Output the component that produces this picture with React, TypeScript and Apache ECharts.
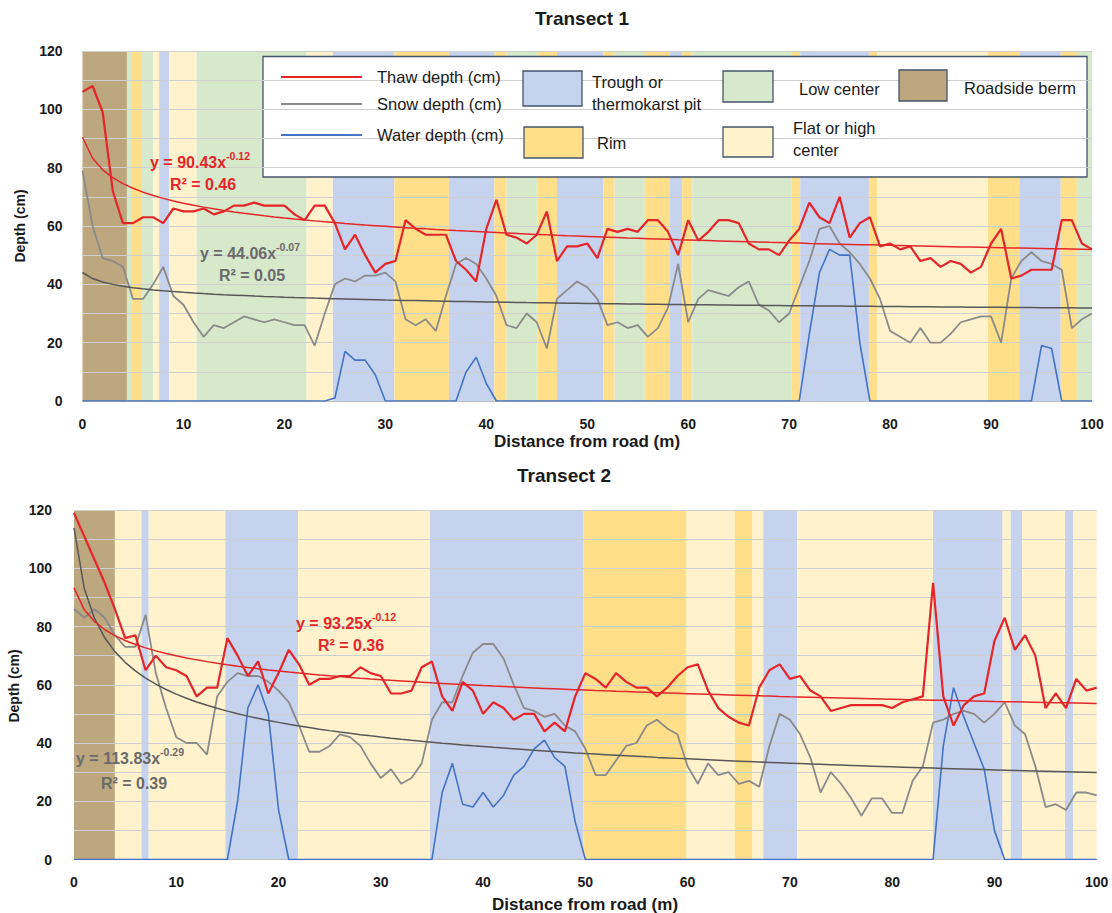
import React, { useEffect, useRef } from 'react';
import * as echarts from 'echarts';

const FONT = "'Liberation Sans', Arial, sans-serif";

// ---------- Transect 1 (values at 1 m spacing, 0..100 m) ----------
const t1Thaw = [
  106, 108, 99, 72, 61, 61, 63, 63, 61, 66,
  65, 65, 66, 64, 65, 67, 67, 68, 67, 67,
  67, 64, 62, 67, 67, 61, 52, 57, 50, 44,
  47, 48, 62, 59, 57, 57, 57, 48, 45, 41,
  59, 69, 57, 56, 54, 57, 65, 48, 53, 53,
  54, 49, 59, 58, 59, 58, 62, 62, 58, 50,
  62, 55, 58, 62, 62, 61, 54, 52, 52, 50,
  55, 59, 68, 63, 61, 70, 56, 61, 63, 53,
  54, 52, 53, 48, 49, 46, 48, 47, 44, 46,
  54, 59, 42, 43, 45, 45, 45, 62, 62, 54,
  52,
];
const t1Snow = [
  79, 60, 49, 48, 46, 35, 35, 40, 46, 36,
  33, 27, 22, 26, 25, 27, 29, 28, 27, 28,
  27, 26, 26, 19, 30, 40, 42, 41, 43, 43,
  44, 41, 28, 26, 28, 24, 36, 47, 49, 47,
  42, 36, 26, 25, 30, 27, 18, 35, 38, 41,
  39, 35, 26, 27, 25, 26, 22, 25, 32, 47,
  27, 35, 38, 37, 36, 39, 41, 33, 31, 27,
  30, 39, 48, 59, 60, 54, 51, 47, 42, 35,
  24, 22, 20, 25, 20, 20, 23, 27, 28, 29,
  29, 20, 42, 48, 51, 48, 47, 45, 25, 28,
  30,
];
const t1Water = [
  0, 0, 0, 0, 0, 0, 0, 0, 0, 0,
  0, 0, 0, 0, 0, 0, 0, 0, 0, 0,
  0, 0, 0, 0, 0, 1, 17, 14, 14, 9,
  0, 0, 0, 0, 0, 0, 0, 0, 10, 15,
  6, 0, 0, 0, 0, 0, 0, 0, 0, 0,
  0, 0, 0, 0, 0, 0, 0, 0, 0, 0,
  0, 0, 0, 0, 0, 0, 0, 0, 0, 0,
  0, 0, 23, 44, 52, 50, 50, 20, 0, 0,
  0, 0, 0, 0, 0, 0, 0, 0, 0, 0,
  0, 0, 0, 0, 0, 19, 18, 0, 0, 0,
  0,
];

// ---------- Transect 2 ----------
const t2Thaw = [
  119, 111, 103, 95, 86, 76, 77, 65, 70, 66,
  65, 63, 56, 59, 59, 76, 70, 63, 68, 57,
  64, 72, 67, 60, 62, 62, 63, 63, 66, 64,
  63, 57, 57, 58, 66, 68, 56, 51, 61, 58,
  50, 54, 52, 48, 50, 50, 44, 47, 44, 56,
  64, 62, 59, 64, 61, 59, 59, 56, 59, 63,
  66, 67, 58, 52, 49, 47, 46, 59, 65, 67,
  62, 63, 58, 56, 51, 52, 53, 53, 53, 53,
  52, 54, 55, 56, 95, 56, 46, 53, 56, 57,
  75, 83, 72, 77, 70, 52, 57, 52, 62, 58,
  59,
];
const t2Snow = [
  86, 83, 86, 83, 77, 73, 73, 84, 64, 52,
  42, 40, 40, 36, 56, 61, 64, 63, 63, 61,
  58, 54, 46, 37, 37, 39, 43, 42, 39, 33,
  28, 31, 26, 28, 33, 48, 54, 54, 63, 71,
  74, 74, 69, 60, 52, 51, 49, 50, 46, 44,
  38, 29, 29, 34, 39, 40, 46, 48, 45, 43,
  32, 26, 33, 29, 30, 26, 27, 25, 39, 50,
  48, 43, 35, 23, 30, 26, 21, 15, 21, 21,
  16, 16, 27, 32, 47, 48, 50, 51, 50, 47,
  50, 54, 46, 43, 32, 18, 19, 17, 23, 23,
  22,
];
const t2Water = [
  0, 0, 0, 0, 0, 0, 0, 0, 0, 0,
  0, 0, 0, 0, 0, 0, 20, 52, 60, 50,
  17, 0, 0, 0, 0, 0, 0, 0, 0, 0,
  0, 0, 0, 0, 0, 0, 23, 33, 19, 18,
  23, 18, 22, 29, 32, 38, 41, 35, 32, 13,
  0, 0, 0, 0, 0, 0, 0, 0, 0, 0,
  0, 0, 0, 0, 0, 0, 0, 0, 0, 0,
  0, 0, 0, 0, 0, 0, 0, 0, 0, 0,
  0, 0, 0, 0, 0, 39, 59, 49, 40, 31,
  10, 0, 0, 0, 0, 0, 0, 0, 0, 0,
  0,
];

// Power-law trend lines as printed on the chart (y = a·x^b, x = point index starting at 1)
const t1ThawFit = { a: 90.43, b: -0.12, r2: '0.46' };
const t1SnowFit = { a: 44.06, b: -0.07, r2: '0.05' };
const t2ThawFit = { a: 93.25, b: -0.12, r2: '0.36' };
const t2SnowFit = { a: 113.83, b: -0.29, r2: '0.39' };

// Terrain classes along the transects [from m, to m, class]
type Kind = 'trough' | 'rim' | 'low' | 'flat' | 'berm';
const t1Bands: [number, number, Kind][] = [
  [0, 4.4, 'berm'], [4.4, 4.9, 'low'], [4.9, 5.9, 'rim'], [5.9, 7.0, 'low'], [7.0, 7.6, 'flat'],
  [7.6, 8.6, 'trough'], [8.6, 11.3, 'flat'], [11.3, 22.2, 'low'], [22.2, 24.8, 'flat'],
  [24.8, 30.9, 'trough'], [30.9, 36.3, 'rim'], [36.3, 40.8, 'trough'], [40.8, 42.0, 'rim'],
  [42.0, 45.1, 'low'], [45.1, 47.0, 'rim'], [47.0, 51.6, 'trough'], [51.6, 52.7, 'rim'],
  [52.7, 55.7, 'low'], [55.7, 58.2, 'rim'], [58.2, 59.4, 'trough'], [59.4, 60.4, 'rim'],
  [60.4, 70.2, 'low'], [70.2, 71.1, 'rim'], [71.1, 77.9, 'trough'], [77.9, 78.7, 'rim'],
  [78.7, 89.7, 'flat'], [89.7, 92.8, 'rim'], [92.8, 96.9, 'trough'], [96.9, 98.5, 'rim'],
  [98.5, 100, 'low'],
];
const t2Bands: [number, number, Kind][] = [
  [0, 4.0, 'berm'], [4.0, 6.6, 'flat'], [6.6, 7.3, 'trough'], [7.3, 14.8, 'flat'],
  [14.8, 21.9, 'trough'], [21.9, 34.8, 'flat'], [34.8, 49.8, 'trough'], [49.8, 59.9, 'rim'],
  [59.9, 64.6, 'flat'], [64.6, 66.3, 'rim'], [66.3, 67.4, 'flat'], [67.4, 70.7, 'trough'],
  [70.7, 84.0, 'flat'], [84.0, 90.8, 'trough'], [90.8, 91.6, 'flat'], [91.6, 92.7, 'trough'],
  [92.7, 96.9, 'flat'], [96.9, 97.7, 'trough'], [97.7, 100, 'flat'],
];

const yTicks = [0, 20, 40, 60, 80, 100, 120];

const BAND_COLOR: Record<Kind, string> = {
  trough: '#C6D3EE',
  rim: '#FFDF8A',
  low: '#D7E9CB',
  flat: '#FFF2CC',
  berm: '#BCA77E',
};
const RED = '#E4262B';
const GRAY = '#8A8A8A';
const GRAY_TREND = '#575757';
const BLUE = '#4472C4';
const EQ_GRAY = '#6A6A6A';
const LEGEND_EDGE = '#44546A';

const pairs = (vals: number[]) => vals.map((v, i) => [i, v]);
const fitLine = (fit: { a: number; b: number }, n: number) =>
  Array.from({ length: n }, (_, i) => [i, fit.a * Math.pow(i + 1, fit.b)]);

function panelSeries(idx: number, bands: [number, number, Kind][], thaw: number[], snow: number[], water: number[], tf: any, sf: any) {
  const base = { type: 'line', xAxisIndex: idx, yAxisIndex: idx, showSymbol: false, symbol: 'none', silent: true, animation: false };
  return [
    {
      ...base,
      name: 'bands' + idx,
      data: [],
      z: -2,
      markArea: {
        silent: true,
        z: -2,
        label: { show: false },
        data: bands.map(([a, b, k]) => [
          { xAxis: a, itemStyle: { color: BAND_COLOR[k], opacity: 1 } },
          { xAxis: b },
        ]),
      },
    },
    { ...base, name: 'Water depth (cm)', data: pairs(water), z: 3, lineStyle: { color: BLUE, width: 1.6 } },
    { ...base, name: 'Snow depth (cm)', data: pairs(snow), z: 3, lineStyle: { color: GRAY, width: 1.8 } },
    { ...base, name: 'Thaw depth (cm)', data: pairs(thaw), z: 3, lineStyle: { color: RED, width: 2.2 } },
    { ...base, name: 'Snow trend', data: fitLine(sf, thaw.length), z: 4, lineStyle: { color: GRAY_TREND, width: 1.5 } },
    { ...base, name: 'Thaw trend', data: fitLine(tf, thaw.length), z: 4, lineStyle: { color: RED, width: 1.5 } },
  ];
}

function axisPair(idx: number, xMargin: number, yMargin: number) {
  return {
    x: {
      type: 'value', gridIndex: idx, min: 0, max: 100, interval: 10, z: 2,
      axisLine: { show: true, onZero: false, lineStyle: { color: '#BFBFBF', width: 1 } },
      axisTick: { show: false },
      splitLine: { show: false },
      axisLabel: { fontFamily: FONT, fontWeight: 'bold', fontSize: 14, color: '#1a1a1a', margin: xMargin },
    },
    y: {
      type: 'value', gridIndex: idx, min: 0, max: 120, interval: 10, z: 2,
      axisLine: { show: false },
      axisTick: { show: false },
      splitLine: { show: true, lineStyle: { color: '#CFCFCF', width: 1 } },
      axisLabel: {
        fontFamily: FONT, fontWeight: 'bold', fontSize: 14, color: '#1a1a1a', margin: yMargin,
        formatter: (v: number) => (yTicks.includes(v) ? String(v) : ''),
      },
    },
  };
}

function txt(x: number, y: number, text: string, opts: any = {}) {
  return {
    type: 'text', x, y, z: 6, silent: true, rotation: opts.rotation || 0,
    style: {
      text,
      fontFamily: FONT,
      fontSize: opts.fontSize || 16.5,
      fontWeight: opts.fontWeight || 'normal',
      fill: opts.fill || '#1a1a1a',
      align: opts.align || 'left',
      textAlign: opts.align || 'left',
      verticalAlign: 'middle',
      textVerticalAlign: 'middle',
    },
  };
}

function eq(x: number, y: number, fit: { a: number; b: number; r2: string }, color: string, r2x: number, r2y: number) {
  return [
    {
      type: 'text', x, y, z: 6, silent: true,
      style: {
        text: `{m|y = ${fit.a.toFixed(2)}x}{s|${fit.b.toFixed(2)}}`,
        align: 'left', textAlign: 'left', verticalAlign: 'middle', textVerticalAlign: 'middle',
        rich: {
          m: { fontFamily: FONT, fontSize: 16, fontWeight: 'bold', fill: color, color, lineHeight: 24 },
          s: { fontFamily: FONT, fontSize: 10.5, fontWeight: 'bold', fill: color, color, verticalAlign: 'top' },
        },
      },
    },
    txt(r2x, r2y, `R² = ${fit.r2}`, { fontSize: 16, fontWeight: 'bold', fill: color, align: 'center' }),
  ];
}

function legend() {
  const els: any[] = [];
  els.push({ type: 'rect', z: -1, silent: true, shape: { x: 263, y: 56.5, width: 824, height: 120.5 }, style: { fill: '#FFFFFF', stroke: LEGEND_EDGE, lineWidth: 1.3 } });
  const lines: [number, string, string, number][] = [
    [77, RED, 'Thaw depth (cm)', 2.2],
    [104, GRAY, 'Snow depth (cm)', 1.8],
    [135, BLUE, 'Water depth (cm)', 1.8],
  ];
  lines.forEach(([y, c, t, w]) => {
    els.push({ type: 'line', z: 5, silent: true, shape: { x1: 281, y1: y, x2: 362, y2: y }, style: { stroke: c, lineWidth: w } });
    els.push(txt(377, y, t));
  });
  const box = (x: number, y: number, w: number, h: number, k: Kind) => ({
    type: 'rect', z: 5, silent: true, shape: { x, y, width: w, height: h },
    style: { fill: BAND_COLOR[k], stroke: LEGEND_EDGE, lineWidth: 1.3 },
  });
  els.push(box(523, 71, 59, 35, 'trough'));
  els.push(txt(592, 82, 'Trough or'));
  els.push(txt(592, 104, 'thermokarst pit'));
  els.push(box(524, 127, 59, 31, 'rim'));
  els.push(txt(597, 143, 'Rim'));
  els.push(box(723, 71, 50, 31, 'low'));
  els.push(txt(799, 89, 'Low center'));
  els.push(box(723, 127, 50, 30, 'flat'));
  els.push(txt(793, 128, 'Flat or high'));
  els.push(txt(793, 150, 'center'));
  els.push(box(899, 70, 48, 31, 'berm'));
  els.push(txt(964, 88, 'Roadside berm'));
  return els;
}

function buildOption() {
  const a1 = axisPair(0, 16, 20);
  const a2 = axisPair(1, 15, 22);
  return {
    animation: false,
    backgroundColor: '#FFFFFF',
    textStyle: { fontFamily: FONT },
    grid: [
      { left: 82.5, top: 51, width: 1009.5, height: 350, containLabel: false },
      { left: 74, top: 510, width: 1022.7, height: 349.5, containLabel: false },
    ],
    xAxis: [a1.x, a2.x],
    yAxis: [a1.y, a2.y],
    series: [
      ...panelSeries(0, t1Bands, t1Thaw, t1Snow, t1Water, t1ThawFit, t1SnowFit),
      ...panelSeries(1, t2Bands, t2Thaw, t2Snow, t2Water, t2ThawFit, t2SnowFit),
    ],
    graphic: [
      txt(582, 18, 'Transect 1', { fontSize: 19, fontWeight: 'bold', align: 'center' }),
      txt(564, 475, 'Transect 2', { fontSize: 19, fontWeight: 'bold', align: 'center' }),
      txt(20, 226, 'Depth (cm)', { fontSize: 14, fontWeight: 'bold', align: 'center', rotation: Math.PI / 2 }),
      txt(14, 686, 'Depth (cm)', { fontSize: 14, fontWeight: 'bold', align: 'center', rotation: Math.PI / 2 }),
      txt(587, 441, 'Distance from road (m)', { fontSize: 17, fontWeight: 'bold', align: 'center' }),
      txt(585, 904, 'Distance from road (m)', { fontSize: 17, fontWeight: 'bold', align: 'center' }),
      ...legend(),
      ...eq(150, 162, t1ThawFit, RED, 203, 184),
      ...eq(200, 253, t1SnowFit, EQ_GRAY, 252, 275),
      ...eq(296, 623, t2ThawFit, RED, 351, 645),
      ...eq(76, 758, t2SnowFit, EQ_GRAY, 134, 783),
    ],
  };
}

export default function App() {
  const ref = useRef<HTMLDivElement>(null);
  useEffect(() => {
    if (!ref.current) return;
    const chart = echarts.init(ref.current, null, { renderer: 'svg' });
    chart.setOption(buildOption() as any);
    return () => chart.dispose();
  }, []);
  return (
    <div
      ref={ref}
      style={{ position: 'fixed', left: 0, top: 0, width: 1112, height: 913, background: '#FFFFFF' }}
    />
  );
}
